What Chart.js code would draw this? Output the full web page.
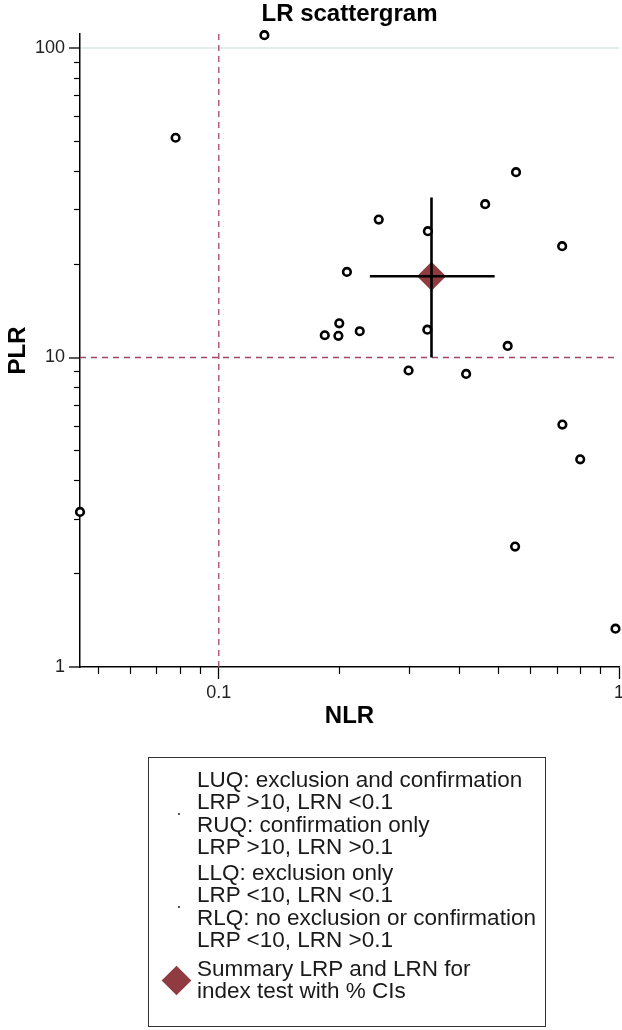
<!DOCTYPE html>
<html>
<head>
<meta charset="utf-8">
<script src="https://cdn.jsdelivr.net/npm/chart.js@4/dist/chart.umd.min.js"></script>
<style>
  body { margin: 0; background: #fff; font-family: "Liberation Sans", Arial, sans-serif; }
  #wrap { position: relative; width: 622px; height: 1030px; }
  #c { position: absolute; left: 0; top: 0; }
  #legend {
    position: absolute; left: 148px; top: 757px; width: 398px; height: 270px;
    border: 1.3px solid #333; box-sizing: border-box; padding-top: 10.5px;
  }
  .grp { position: relative; padding-left: 48px; }
  .grp .ln { font-size: 22.5px; line-height: 22.5px; color: #1a1a1a; white-space: nowrap; }
  .grp .mk { position: absolute; top: 50%; }
  .dot { left: 29px; width: 2px; height: 2px; margin-top: -1px; background: #555; }
  .dia { left: 17px; width: 21px; height: 21px; margin-top: -10.5px; background: #8f3b3f; transform: rotate(45deg); }
</style>
</head>
<body>
<div id="wrap">
  <canvas id="c" width="622" height="760"></canvas>
  <div id="legend"></div>
</div>
<script>
// LR scattergram: PLR vs NLR (log-log)
const studyNLR = [0.130, 0.078, 0.045, 0.722, 0.800, 0.550, 0.980, 0.553, 0.463, 0.721, 0.251,
                  0.333, 0.209, 0.200, 0.184, 0.199, 0.225, 0.332, 0.527, 0.298, 0.415];
const studyPLR = [110, 51.3, 3.17, 6.07, 4.69, 2.45, 1.33, 39.7, 31.3, 22.9, 27.9,
                  25.6, 18.9, 12.9, 11.8, 11.75, 12.16, 12.3, 10.9, 9.08, 8.85];

// summary point and its CIs
const summaryNLR = 0.340;
const summaryPLR = 18.3;
const summaryNLRci = [0.2385, 0.489];
const summaryPLRci = [10.0, 32.9];

// quadrant cut-offs
const cutNLR = 0.1;
const cutPLR = 10;

const xRange = [0.045, 1];
const yRange = [1, 111];

const xMajorTicks = [0.1, 1];
const xMajorLabels = ['0.1', '1'];
const xMinorTicks = [0.05, 0.06, 0.07, 0.08, 0.09, 0.2, 0.3, 0.4, 0.5, 0.6, 0.7, 0.8, 0.9];
const yMajorTicks = [1, 10, 100];
const yMajorLabels = ['1', '10', '100'];
const yMinorTicks = [2, 3, 4, 5, 6, 7, 8, 9, 20, 30, 40, 50, 60, 70, 80, 90];

const chartTitle = 'LR scattergram';
const xTitle = 'NLR';
const yTitle = 'PLR';

const legendGroups = [
  { marker: 'dot', lines: ['LUQ: exclusion and confirmation', 'LRP >10, LRN <0.1', 'RUQ: confirmation only', 'LRP >10, LRN >0.1'] },
  { marker: 'dot', lines: ['LLQ: exclusion only', 'LRP <10, LRN <0.1', 'RLQ: no exclusion or confirmation', 'LRP <10, LRN >0.1'] },
  { marker: 'dia', lines: ['Summary LRP and LRN for', 'index test with % CIs'] }
];

const FONT = '"Liberation Sans", Arial, sans-serif';
const refColor = '#a34563';
const diamondColor = '#8f3b3f';

const setTicks = (vals) => (scale) => { scale.ticks = vals.map(v => ({ value: v })); };
const labelFor = (vals, labels) => (value) => {
  const i = vals.indexOf(value);
  return i >= 0 ? labels[i] : '';
};
const noPad = (scale) => {
  scale.paddingLeft = 0; scale.paddingRight = 0; scale.paddingTop = 0; scale.paddingBottom = 0;
};

new Chart(document.getElementById('c'), {
  type: 'scatter',
  data: {
    datasets: [
      {
        label: 'studies',
        data: studyNLR.map((x, i) => ({ x: x, y: studyPLR[i] })),
        pointStyle: 'circle',
        pointRadius: 3.8,
        pointBorderWidth: 2.6,
        pointBorderColor: '#000',
        pointBackgroundColor: '#fff',
        clip: false,
        order: 1
      },
      {
        type: 'line',
        label: 'ci-x',
        data: summaryNLRci.map(x => ({ x: x, y: summaryPLR })),
        borderColor: '#000', borderWidth: 2.6, pointRadius: 0, order: 2
      },
      {
        type: 'line',
        label: 'ci-y',
        data: summaryPLRci.map(y => ({ x: summaryNLR, y: y })),
        borderColor: '#000', borderWidth: 2.6, pointRadius: 0, order: 2
      },
      {
        label: 'summary',
        data: [{ x: summaryNLR, y: summaryPLR }],
        pointStyle: 'rectRot',
        pointRadius: 14.5,
        pointBorderWidth: 0,
        pointBackgroundColor: diamondColor,
        pointBorderColor: diamondColor,
        clip: false,
        order: 3
      },
      {
        type: 'line',
        label: 'cut-x',
        data: yRange.map(y => ({ x: cutNLR, y: y })),
        borderColor: refColor, borderWidth: 1.3, borderDash: [6, 5], pointRadius: 0, order: 5
      },
      {
        type: 'line',
        label: 'cut-y',
        data: xRange.map(x => ({ x: x, y: cutPLR })),
        borderColor: refColor, borderWidth: 1.3, borderDash: [6, 5], pointRadius: 0, order: 5
      }
    ]
  },
  options: {
    responsive: false,
    animation: false,
    events: [],
    layout: { autoPadding: false, padding: { top: 0, left: 0, right: 3, bottom: 0 } },
    plugins: {
      legend: { display: false },
      tooltip: { enabled: false },
      title: {
        display: true,
        fullSize: false,
        text: chartTitle,
        color: '#000',
        font: { family: FONT, size: 24, weight: 'bold', lineHeight: 1.2 },
        padding: { top: 0, bottom: 5.2 }
      }
    },
    scales: {
      x: {
        type: 'logarithmic',
        position: 'bottom',
        weight: 1,
        min: xRange[0], max: xRange[1],
        bounds: 'data',
        afterBuildTicks: setTicks(xMajorTicks),
        afterFit: (scale) => { scale.height = 93; noPad(scale); },
        ticks: {
          autoSkip: false, maxRotation: 0, padding: 3, color: '#222',
          font: { family: FONT, size: 18 },
          callback: labelFor(xMajorTicks, xMajorLabels)
        },
        grid: { drawOnChartArea: false, tickLength: 12, tickColor: '#000', tickWidth: 1.3 },
        border: { display: true, color: '#000', width: 1.5 },
        title: {
          display: true, text: xTitle, color: '#000',
          font: { family: FONT, size: 24, weight: 'bold', lineHeight: 1.2 },
          padding: { top: 0, bottom: 29.6 }
        }
      },
      xMinor: {
        type: 'logarithmic',
        position: 'bottom',
        weight: 0,
        min: xRange[0], max: xRange[1],
        bounds: 'data',
        afterBuildTicks: setTicks(xMinorTicks),
        afterFit: (scale) => { scale.height = 0; noPad(scale); },
        ticks: { display: false },
        grid: { drawOnChartArea: false, tickLength: 7, tickColor: '#000', tickWidth: 1.2 },
        border: { display: false }
      },
      y: {
        type: 'logarithmic',
        position: 'left',
        weight: 1,
        min: yRange[0], max: yRange[1],
        bounds: 'data',
        afterBuildTicks: setTicks(yMajorTicks),
        afterFit: (scale) => { scale.width = 80; noPad(scale); },
        ticks: {
          autoSkip: false, padding: 4, color: '#222',
          font: { family: FONT, size: 18 },
          callback: labelFor(yMajorTicks, yMajorLabels)
        },
        grid: {
          drawOnChartArea: true,
          color: (ctx) => (ctx.tick && ctx.tick.value === 100 ? '#e2eded' : 'rgba(0,0,0,0)'),
          lineWidth: 2,
          tickLength: 11, tickColor: '#000', tickWidth: 1.3
        },
        border: { display: true, color: '#000', width: 1.5 },
        title: {
          display: true, text: yTitle, color: '#000',
          font: { family: FONT, size: 24, weight: 'bold', lineHeight: 1.2 },
          padding: { top: 3.6, bottom: 0 }
        }
      },
      yMinor: {
        type: 'logarithmic',
        position: 'left',
        weight: 0,
        min: yRange[0], max: yRange[1],
        bounds: 'data',
        afterBuildTicks: setTicks(yMinorTicks),
        afterFit: (scale) => { scale.width = 0; noPad(scale); },
        ticks: { display: false },
        grid: { drawOnChartArea: false, tickLength: 6, tickColor: '#000', tickWidth: 1.2 },
        border: { display: false }
      }
    }
  }
});

// legend box
const legendEl = document.getElementById('legend');
legendGroups.forEach((g, gi) => {
  const grp = document.createElement('div');
  grp.className = 'grp';
  if (gi === 1) grp.style.marginTop = '3px';
  if (gi === 2) grp.style.marginTop = '6px';
  g.lines.forEach(t => {
    const ln = document.createElement('div');
    ln.className = 'ln';
    ln.textContent = t;
    grp.appendChild(ln);
  });
  const mk = document.createElement('div');
  mk.className = 'mk ' + g.marker;
  grp.appendChild(mk);
  legendEl.appendChild(grp);
});
</script>
</body>
</html>
